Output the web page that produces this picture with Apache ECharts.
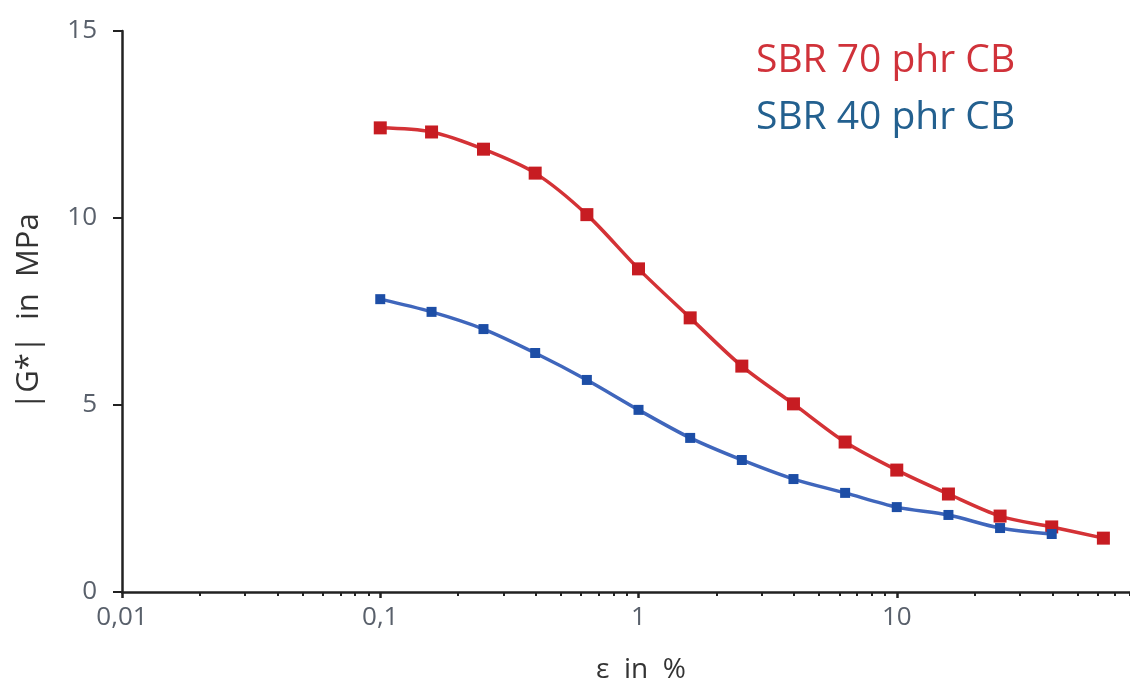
<!DOCTYPE html>
<html>
<head>
<meta charset="utf-8">
<script src="https://cdn.jsdelivr.net/npm/echarts@6/dist/echarts.min.js"></script>
<style>
    html, body { margin: 0; padding: 0; background: #fff; }
    #chart { width: 1130px; height: 683px; }
</style>
</head>
<body>
<div id="chart"></div>
<script>
// strain amplitude in % (0.2 decade steps)
var strain = [0.1, 0.158, 0.251, 0.398, 0.631, 1, 1.585, 2.512, 3.981, 6.31, 10, 15.85, 25.12, 39.81, 63.1]
// |G*| in MPa
var sbr70 = [12.41, 12.30, 11.84, 11.20, 10.09, 8.64, 7.33, 6.04, 5.03, 4.01, 3.26, 2.62, 2.03, 1.74, 1.44]
var sbr40 = [7.83, 7.49, 7.03, 6.39, 5.67, 4.87, 4.12, 3.53, 3.02, 2.65, 2.27, 2.06, 1.71, 1.55]
var majorTicks = [0.01, 0.1, 1, 10]
var minorTicks = [0.02, 0.03, 0.04, 0.05, 0.06, 0.07, 0.08, 0.09,
    0.2, 0.3, 0.4, 0.5, 0.6, 0.7, 0.8, 0.9,
    2, 3, 4, 5, 6, 7, 8, 9,
    20, 30, 40, 50, 60, 70, 80]
var yTicks = [0, 5, 10, 15]

function pairs(xs, ys) {
    return ys.map(function (y, i) { return [xs[i], y] })
}

var chart = echarts.init(document.getElementById('chart'))
var font = '"Open Sans", "Noto Sans", sans-serif'

chart.setOption({
    animation: false,
    textStyle: { fontFamily: font },
    grid: { left: 122, right: 0, top: 31, bottom: 91, containLabel: false, outerBoundsMode: 'none' },
    legend: {
        orient: 'vertical',
        left: 746,
        top: 36,
        icon: 'none',
        itemWidth: 0,
        itemGap: 18,
        selectedMode: false,
        textStyle: { fontSize: 39, fontFamily: font },
        data: [
            { name: 'SBR 70 phr CB', textStyle: { color: '#d0323a' } },
            { name: 'SBR 40 phr CB', textStyle: { color: '#23608f' } }
        ]
    },
    xAxis: [{
        type: 'log',
        logBase: 10,
        min: 0.01,
        max: 80,
        name: 'ε  in  %',
        nameLocation: 'middle',
        nameGap: 64,
        nameTextStyle: { color: '#333', fontSize: 28, padding: [0, 0, 0, 30] },
        axisLine: { lineStyle: { color: '#222', width: 2.5 } },
        axisTick: { customValues: majorTicks, length: 6, lineStyle: { color: '#222', width: 2.5 } },
        axisLabel: {
            customValues: majorTicks,
            margin: 13,
            color: '#59606b',
            fontSize: 26,
            formatter: function (v) { return String(v).replace('.', ',') }
        },
        splitLine: { show: false },
        minorTick: { show: false }
    }, {
        type: 'log',
        logBase: 10,
        min: 0.01,
        max: 80,
        position: 'bottom',
        axisLine: { show: false },
        axisTick: { customValues: minorTicks, length: 4, lineStyle: { color: '#222', width: 2 } },
        axisLabel: { show: false },
        splitLine: { show: false }
    }],
    yAxis: {
        type: 'value',
        min: 0,
        max: 15,
        interval: 5,
        name: '|G*|  in  MPa',
        nameLocation: 'middle',
        nameGap: 77,
        nameTextStyle: { color: '#333', fontSize: 31 },
        axisLine: { show: true, lineStyle: { color: '#222', width: 2.5 } },
        axisTick: { show: true, length: 9, customValues: yTicks, lineStyle: { color: '#222', width: 2 } },
        axisLabel: { margin: 25, color: '#59606b', fontSize: 26 },
        splitLine: { show: false }
    },
    series: [{
        name: 'SBR 70 phr CB',
        type: 'line',
        xAxisIndex: 0,
        smooth: 0.3,
        symbol: 'rect',
        symbolSize: 13,
        color: '#d0323a',
        itemStyle: { color: '#c71c22' },
        lineStyle: { color: '#d43236', width: 3.5 },
        data: pairs(strain, sbr70),
        z: 3
    }, {
        name: 'SBR 40 phr CB',
        type: 'line',
        xAxisIndex: 0,
        smooth: 0.3,
        symbol: 'rect',
        symbolSize: 10,
        color: '#23608f',
        itemStyle: { color: '#1d4ea6' },
        lineStyle: { color: '#3f66bc', width: 3.5 },
        data: pairs(strain, sbr40),
        z: 4
    }]
})
</script>
</body>
</html>
